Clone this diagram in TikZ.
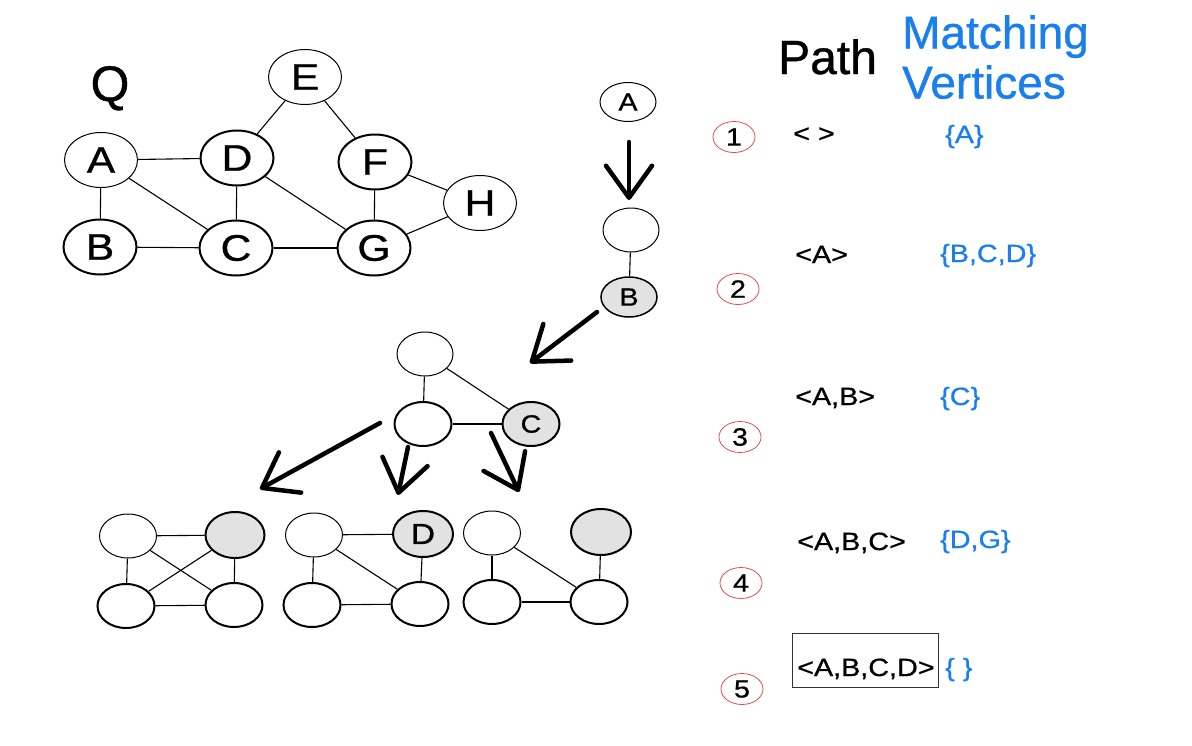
\documentclass[tikz,border=0pt]{standalone}
\usepackage{fontspec}
\setmainfont{Liberation Sans}[FakeBold=0.8]
\newfontfamily\widesans{Liberation Sans}[FakeStretch=1.15, FakeBold=0.8]
\usetikzlibrary{shapes.geometric, arrows.meta}
\definecolor{matchblue}{RGB}{25,126,238}
\definecolor{ringred}{RGB}{222,80,80}
\definecolor{hitgray}{RGB}{226,226,226}

\begin{document}
\begin{tikzpicture}[x=1pt, y=-1pt,
    vertex/.style ={ellipse, draw=black, line width=1pt, fill=white, inner sep=0pt, minimum width=57pt, minimum height=44pt, font=\widesans\fontsize{25}{25}\selectfont},
    heavy/.style ={line width=2pt},
    hit/.style ={heavy, fill=hitgray},
    qvertex/.style ={vertex, minimum width=73pt, minimum height=55pt, font=\widesans\fontsize{37}{37}\selectfont},
    link/.style ={draw, line width=1.1pt},
    bigarrow/.style ={draw, line width=4.5pt, line cap=round, -{Straight Barb[length=32pt, width=46pt, round]}},
    stepnum/.style ={ellipse, draw=ringred, line width=0.8pt, inner sep=0pt, minimum width=42pt, minimum height=31pt, font=\widesans\fontsize{25}{25}\selectfont},
    pathtxt/.style ={anchor=base west, inner sep=0pt, font=\widesans\fontsize{25}{25}\selectfont},
    matchtxt/.style ={pathtxt, text=matchblue},
]
\useasboundingbox (0,0) rectangle (1192,745);

% Query graph
\node [anchor=base, inner sep=0pt, font=\fontsize{50}{50}\selectfont] (qlabel) at (110,101) {Q};
\node [qvertex] (qe) at (305,77) {E};
\node [qvertex] (qa) at (101,160) {A};
\node [qvertex, heavy] (qd) at (237,158) {D};
\node [qvertex, heavy] (qf) at (375,162) {F};
\node [qvertex] (qh) at (480,203) {H};
\node [qvertex, heavy] (qb) at (100,247) {B};
\node [qvertex, heavy] (qc) at (236,248) {C};
\node [qvertex, heavy] (qg) at (374,248) {G};

\path [link] (qa) -- (qd);
\path [link] (qa) -- (qb);
\path [link] (qa) -- (qc);
\path [link] (qb) -- (qc);
\path [link] (qd) -- (qc);
\path [link] (qd) -- (qg);
\path [link] (qc) -- (qg);
\path [link] (qf) -- (qg);
\path [link] (qe) -- (qd);
\path [link] (qe) -- (qf);
\path [link] (qf) -- (qh);
\path [link] (qh) -- (qg);

% Search steps
\node [vertex, minimum width=56pt, minimum height=39pt] (sa) at (628,102) {A};
\node [vertex, minimum width=56pt] (sx) at (631,230) {};
\node [vertex, hit, line width=1.5pt, minimum width=56pt, minimum height=40pt] (sb) at (629,297) {B};
\path [link] (sx) -- (sb);

\node [vertex, minimum width=56pt] (tt) at (425,354) {};
\node [vertex, heavy] (tl) at (423,424) {};
\node [vertex, hit] (tc) at (531,424) {C};
\path [link] (tt) -- (tl);
\path [link] (tt) -- (tc);
\path [link] (tl) -- (tc);

\node [vertex] (ga1) at (128,536) {};
\node [vertex, hit, minimum width=59pt, minimum height=46pt] (ga2) at (235,535) {};
\node [vertex, heavy] (ga3) at (126,606) {};
\node [vertex, heavy] (ga4) at (234,605) {};
\path [link] (ga1) -- (ga2);
\path [link] (ga1) -- (ga3);
\path [link] (ga1) -- (ga4);
\path [link] (ga2) -- (ga3);
\path [link] (ga2) -- (ga4);
\path [link] (ga3) -- (ga4);

\node [vertex] (gb1) at (314,535) {};
\node [vertex, hit, minimum width=60pt, minimum height=46pt, font=\widesans\fontsize{29}{29}\selectfont] (gb2) at (423,534) {D};
\node [vertex, heavy] (gb3) at (312,605) {};
\node [vertex, heavy] (gb4) at (420,604) {};
\path [link] (gb1) -- (gb2);
\path [link] (gb1) -- (gb3);
\path [link] (gb1) -- (gb4);
\path [link] (gb2) -- (gb4);
\path [link] (gb3) -- (gb4);

\node [vertex] (gc1) at (492,533) {};
\node [vertex, hit, minimum width=60pt, minimum height=46pt] (gc2) at (601,532) {};
\node [vertex, heavy] (gc3) at (492,602) {};
\node [vertex, heavy] (gc4) at (599,602) {};
\path [link] (gc1) -- (gc3);
\path [link] (gc1) -- (gc4);
\path [link] (gc2) -- (gc4);
\path [link] (gc3) -- (gc4);

% Arrows
\coordinate (a1s) at (629,142);
\coordinate (a1e) at (629,200);
\coordinate (a2s) at (597,312);
\coordinate (a2e) at (530,363);
\coordinate (a3s) at (380,423);
\coordinate (a3e) at (260,489);
\coordinate (a4s) at (408,447);
\coordinate (a4e) at (398,495);
\coordinate (a5s) at (491,433);
\coordinate (a5e) at (519,492);
\path [bigarrow] (a1s) -- (a1e);
\path [bigarrow] (a2s) -- (a2e);
\path [bigarrow] (a3s) -- (a3e);
\path [bigarrow] (a4s) -- (a4e);
\path [bigarrow] (a5s) -- (a5e);

% Table
\node [anchor=base west, inner sep=0pt, font=\fontsize{48}{48}\selectfont] (pathhead) at (778,74) {Path};
\node [anchor=north west, inner sep=0pt, align=left, text=matchblue, font=\fontsize{46}{50}\selectfont] (matchhead) at (902,15) {Matching\\Vertices};

\node [stepnum] (n1) at (734,137) {1};
\node [stepnum] (n2) at (738,289) {2};
\node [stepnum] (n3) at (740,437) {3};
\node [stepnum] (n4) at (741,583) {4};
\node [stepnum] (n5) at (742,689) {5};

\node [pathtxt] (p1) at (793,142) {< >};
\node [matchtxt] (m1) at (945,143) {\{A\}};
\node [pathtxt] (p2) at (795,263) {<A>};
\node [matchtxt] (m2) at (940,262) {\{B,C,D\}};
\node [pathtxt] (p3) at (795,405) {<A,B>};
\node [matchtxt] (m3) at (940,405) {\{C\}};
\node [pathtxt] (p4) at (797,550) {<A,B,C>};
\node [matchtxt] (m4) at (940,548) {\{D,G\}};
\node [pathtxt] (p5) at (797,676) {<A,B,C,D>};
\node [matchtxt] (m5) at (945,676) {\{ \}};
\draw [line width=1pt, draw=black!80] ([shift={(-5,-43)}]p5.base west) rectangle ([shift={(141,11)}]p5.base west);

\end{tikzpicture}
\end{document}
